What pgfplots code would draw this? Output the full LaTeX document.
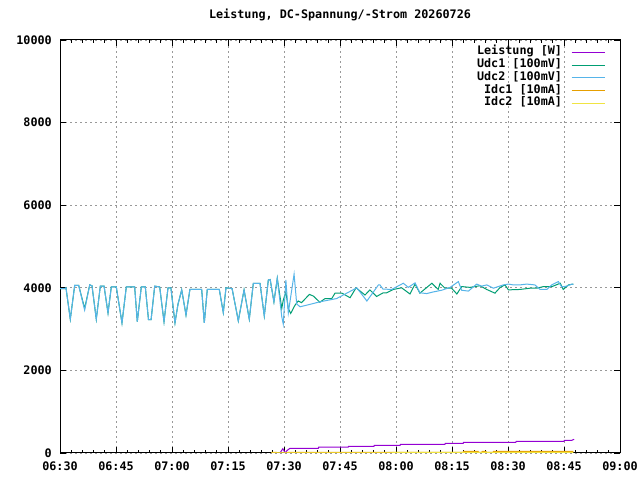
\documentclass[border=0pt]{standalone}
\usepackage{pgfplots}
\pgfplotsset{compat=1.18}
\usepackage{fontspec}
\setmainfont{DejaVu Sans Mono}
\setmonofont{DejaVu Sans Mono}
\definecolor{cP}{HTML}{9400D3}
\definecolor{cG}{HTML}{009E73}
\definecolor{cB}{HTML}{56B4E9}
\definecolor{cO}{HTML}{E69F00}
\definecolor{cY}{HTML}{F0E442}
\begin{document}
\begin{tikzpicture}
\useasboundingbox[fill=white] (0,0) rectangle (640bp,480bp);
\begin{axis}[
  scale only axis, width=560bp, height=413bp,
  at={(60bp,27bp)}, anchor=south west,
  xmin=0, xmax=150, ymin=0, ymax=10000,
  scaled y ticks=false, scaled x ticks=false,
  xtick={0,15,...,150},
  xticklabels={06:30,06:45,07:00,07:15,07:30,07:45,08:00,08:15,08:30,08:45,09:00},
  minor x tick num=4,
  ytick={0,2000,...,10000},
  yticklabels={0,2000,4000,6000,8000,10000},
  tick align=inside,
  major tick length=6bp, minor tick length=3bp,
  tick style={black, line width=0.8bp},
  axis line style={black, line width=1bp},
  grid=major,
  major grid style={gray!80, line width=0.9bp, dash pattern=on 2bp off 3bp},
  font=\fontsize{11.8}{13}\selectfont\bfseries,
  xticklabel style={anchor=base, inner sep=0pt, yshift=-17.7bp},
  yticklabel style={anchor=east, inner sep=0pt, xshift=-8bp},
  title={Leistung, DC-Spannung/-Strom 20260726},
  title style={at={(0.5,1)}, anchor=base, yshift=16bp, inner sep=0pt},
  legend style={at={(1,1)}, anchor=north east, xshift=-15bp, yshift=-6bp,
    draw=none, fill=none, inner sep=0pt, outer sep=0pt,
    legend cell align=right,
    nodes={inner sep=0pt, text height=9bp, text depth=3.75bp},
    row sep=0pt, column sep=9bp},
  legend plot pos=right,
  legend image code/.code={\draw[#1] (0bp,0bp) -- (33bp,0bp);},
  every axis plot/.append style={line width=1bp},
]
% Leistung [W]
\addplot[cP] coordinates {
(58.9,0)(59.7,104)(60.3,0)(60.8,60)(61.6,114)(69.2,114)(69.3,145)(77.2,145)
(77.3,162)(84.1,162)(84.2,186)(91.1,186)(91.2,210)(103.1,210)(103.2,235)
(108,235)(108.1,259)(122.1,259)(122.2,283)(135,283)(135.1,307)(137.1,307)(137.7,332)
};
\addlegendentry{Leistung [W]}
% Udc1
\addplot[cG] coordinates {
(0,3980)(1.25,3980)(1.6,4000)(2.76,3240)(3.94,4060)(5.0,4060)(6.6,3500)(7.96,4070)
(8.57,4050)(9.72,3240)(10.8,4040)(11.8,4040)(12.86,3390)(13.74,4020)(15.08,4020)
(16.6,3150)(17.76,4020)(20.0,4020)(20.7,3180)(21.78,4020)(22.85,4020)(23.7,3230)
(24.4,3230)(25.37,4040)(26.7,4020)(27.86,3180)(28.93,4000)(29.7,4000)(30.8,3150)
(31.6,3600)(32.6,3950)(33.75,3340)(34.8,3960)(37.95,3960)(38.65,3150)(39.45,3960)
(42.67,3960)(43.74,3400)(44.46,4000)(46.1,3980)(47.76,3200)(49.3,3950)(50.7,3240)
(51.78,4110)(53.57,4110)(54.72,3320)(55.8,4190)(56.3,4200)(57.3,3660)(58.2,4230)
(59.4,3500)(59.8,3700)(60.5,3900)(61.15,3500)(61.8,3380)(62.95,3580)(63.8,3680)
(64.7,3640)(66.8,3840)(67.86,3800)(69.6,3650)(71,3740)(72.8,3740)(73.66,3870)
(75.5,3870)(77.7,3760)(79.3,4000)(81.7,3825)(83,3950)(84.8,3790)(86.6,3880)
(87.5,3880)(89.3,3960)(91.5,4000)(93.75,3850)(95.1,4090)(96.4,3870)(99.6,4110)
(101.3,3960)(101.8,4110)(103.1,3990)(104.9,3990)(106.3,3850)(107.6,4030)
(109.8,4010)(112.5,4050)(114.3,3960)(116.5,3870)(117.9,4010)(119.2,4070)
(120.1,3950)(123.2,3960)(125.9,3990)(127.7,3990)(129.5,4030)(131.8,4030)
(134,4110)(134.8,3960)(136.2,4070)(137.5,4090)
};
\addlegendentry{Udc1 [100mV]}
% Udc2
\addplot[cB] coordinates {
(0,3980)(1.25,3980)(1.6,4000)(2.76,3240)(3.94,4060)(5.0,4060)(6.6,3460)(7.96,4070)
(8.57,4050)(9.72,3240)(10.8,4040)(11.8,4040)(12.86,3390)(13.74,4020)(15.08,4020)
(16.6,3150)(17.76,4020)(20.0,4020)(20.7,3180)(21.78,4020)(22.85,4020)(23.7,3230)
(24.4,3230)(25.37,4040)(26.7,4020)(27.86,3180)(28.93,4000)(29.7,4000)(30.8,3150)
(31.6,3600)(32.6,3950)(33.75,3340)(34.8,3960)(37.95,3960)(38.65,3150)(39.45,3960)
(42.67,3960)(43.74,3400)(44.46,4000)(46.1,3980)(47.76,3200)(49.3,3950)(50.7,3240)
(51.78,4110)(53.57,4110)(54.72,3320)(55.8,4190)(56.3,4200)(57.3,3660)(58.2,4230)
(59.4,3300)(59.8,3120)(60.5,4190)(61.15,3390)(62.7,4330)(63.4,3610)(64.3,3540)
(67,3600)(69.6,3660)(74.1,3740)(76.8,3870)(79.5,4000)(82.2,3680)(85.3,4070)
(85.7,4070)(86.5,3970)(88.85,3960)(91.1,4070)(91.96,4110)(93.3,4010)(95.1,4120)
(96.4,3880)(98.2,3860)(100,3900)(102.2,3940)(104.5,4010)(106.7,4150)(107.6,3940)
(109.4,3920)(111.6,4090)(112.95,4040)(114.3,4070)(116.1,3990)(118.75,4070)
(120.1,4090)(121.4,4070)(123.2,4070)(125,4090)(127.2,4070)(128.6,3960)(130.4,3960)
(131.7,4070)(133.5,4150)(134.4,4020)(135.7,4040)(137.1,4090)(137.5,4080)
};
\addlegendentry{Udc2 [100mV]}
% Idc1
\addplot[cO] coordinates {
(56.6,15)(58,15)(58.3,0)(60.7,0)(61,15)(108,15)(108.1,40)(112,40)(112.1,15)
(113,15)(113.1,40)(114.1,40)(114.2,15)(116,15)(116.1,40)(137.5,40)
};
\addlegendentry{Idc1 [10mA]}
% Idc2
\addplot[cY] coordinates {
(56.6,0)(89,0)(89.1,15)(137.5,15)
};
\addlegendentry{Idc2 [10mA]}
\end{axis}
\end{tikzpicture}
\end{document}
